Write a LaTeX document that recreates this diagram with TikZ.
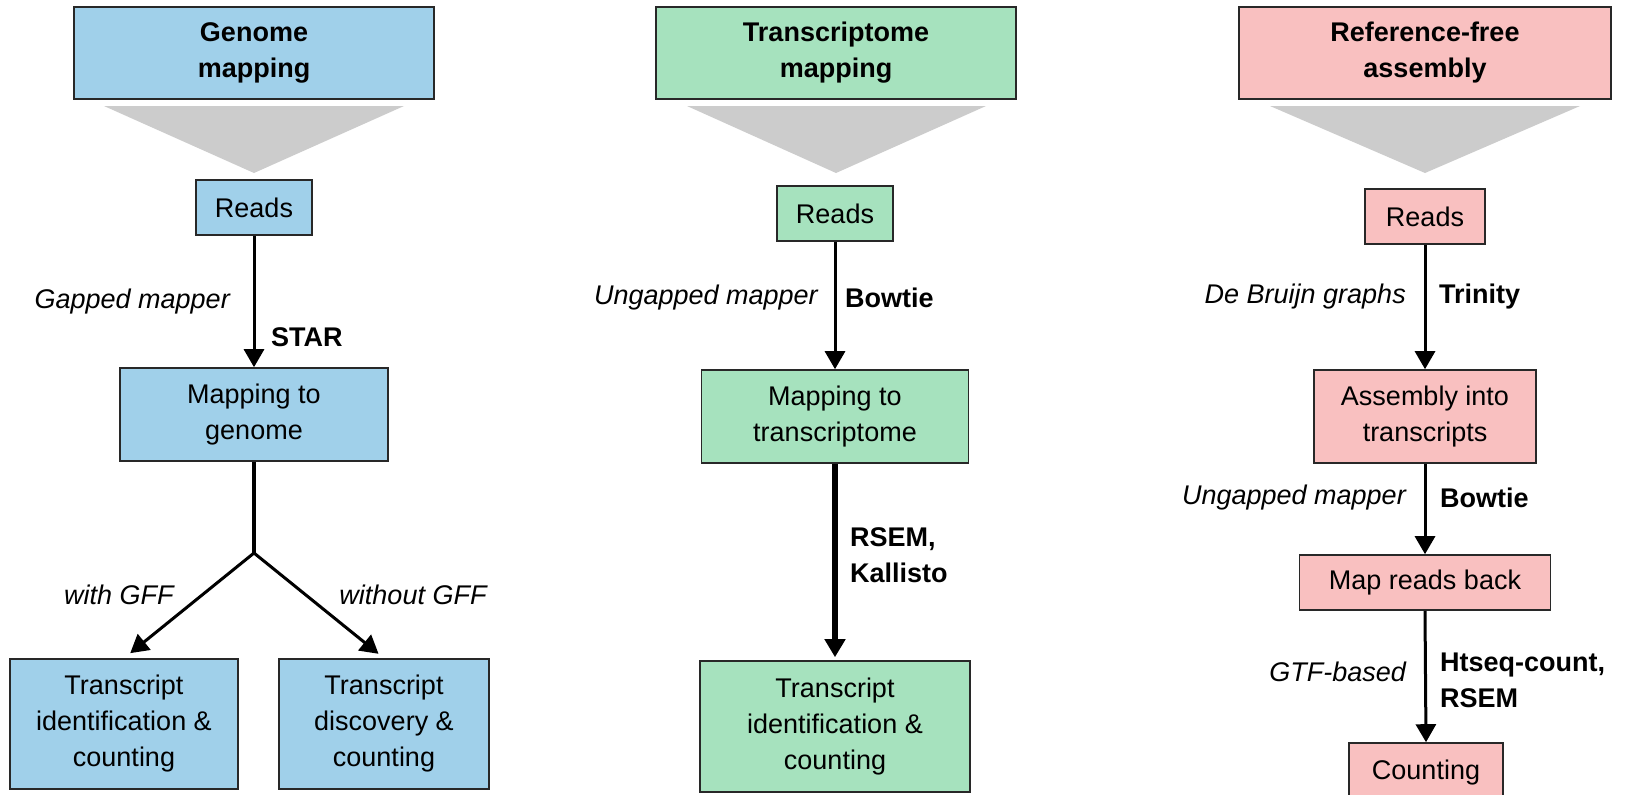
\documentclass[tikz,border=0pt]{standalone}
\usepackage{fontspec}
\setmainfont{Liberation Sans}
\usetikzlibrary{arrows.meta}
\definecolor{cblue}{RGB}{160,208,234}
\definecolor{cgreen}{RGB}{166,226,190}
\definecolor{cpink}{RGB}{249,192,192}
\definecolor{cgray}{RGB}{204,204,204}
\definecolor{cedge}{RGB}{40,40,40}
\tikzset{
  box/.style={draw=cedge, line width=1.6pt, align=center, inner sep=0pt,
    font=\fontsize{27}{36}\selectfont},
  titlebox/.style={box, font=\fontsize{27}{36}\selectfont\bfseries},
  lab/.style={inner sep=0pt, font=\fontsize{27}{36}\selectfont\itshape},
  tool/.style={inner sep=0pt, align=left, font=\fontsize{27}{36}\selectfont\bfseries},
  arr/.style={line width=3pt, -{Triangle[length=18pt,width=20pt]}},
  thickarr/.style={line width=5.5pt, -{Triangle[length=18pt,width=20pt]}},
  funnel/.style={fill=cgray, draw=none}
}
\begin{document}
\begin{tikzpicture}[x=1pt,y=-1pt]
\clip (0,0) rectangle (1641,795);
\fill[white] (0,0) rectangle (1641,795);

% ---------- Column 1: Genome mapping ----------
\node[titlebox, fill=cblue, minimum width=360pt, minimum height=92pt] (t1) at (254,53) {Genome\\mapping};
\fill[funnel] (104,106) -- (404,106) -- (254,173) -- cycle;
\node[box, fill=cblue, minimum width=116pt, minimum height=55pt] (r1) at (254,207.5) {Reads};
\node[box, fill=cblue, minimum width=268pt, minimum height=93pt] (m1) at (254,414.5) {Mapping to\\genome};
\coordinate (s1) at (254,553);
\node[box, fill=cblue, minimum width=228pt, minimum height=130pt] (b1L) at (124,724) {Transcript\\identification \&\\counting};
\node[box, fill=cblue, minimum width=210pt, minimum height=130pt] (b1R) at (384,724) {Transcript\\discovery \&\\counting};
\draw[arr] (r1.south) -- (m1.north);
\draw[line width=3.5pt] (m1.south) -- (s1);
\draw[arr, shorten >=8pt] (s1) -- (b1L.north);
\draw[arr, shorten >=7pt] (s1) -- (b1R.north);
\node[lab, anchor=east] (l1a) at (230,302) {Gapped mapper};
\node[tool, anchor=west] (l1b) at (271,337) {STAR};
\node[lab] (l1c) at (119,595) {with GFF};
\node[lab] (l1d) at (413,595) {without GFF};

% ---------- Column 2: Transcriptome mapping ----------
\node[titlebox, fill=cgreen, minimum width=360pt, minimum height=92pt] (t2) at (836,53) {Transcriptome\\mapping};
\fill[funnel] (687,106) -- (986,106) -- (836,173) -- cycle;
\node[box, fill=cgreen, minimum width=116pt, minimum height=55pt] (r2) at (835,213.5) {Reads};
\node[box, fill=cgreen, minimum width=267pt, minimum height=93pt] (m2) at (835,416.5) {Mapping to\\transcriptome};
\node[box, fill=cgreen, minimum width=270pt, minimum height=131pt] (b2) at (835,726.5) {Transcript\\identification \&\\counting};
\draw[arr] (r2.south) -- (m2.north);
\draw[thickarr, shorten >=3pt] (m2.south) -- (b2.north);
\node[lab, anchor=east] (l2a) at (818,298) {Ungapped mapper};
\node[tool, anchor=west] (l2b) at (845,298) {Bowtie};
\node[tool, anchor=west] (l2c) at (850,555) {RSEM,\\Kallisto};

% ---------- Column 3: Reference-free assembly ----------
\node[titlebox, fill=cpink, minimum width=372pt, minimum height=92pt] (t3) at (1425,53) {Reference-free\\assembly};
\fill[funnel] (1270,106) -- (1580,106) -- (1425,173) -- cycle;
\node[box, fill=cpink, minimum width=120pt, minimum height=55pt] (r3) at (1425,216.5) {Reads};
\node[box, fill=cpink, minimum width=222pt, minimum height=93pt] (m3) at (1425,416.5) {Assembly into\\transcripts};
\node[box, fill=cpink, minimum width=251pt, minimum height=55pt] (mb3) at (1425,582.5) {Map reads back};
\node[box, fill=cpink, minimum width=154pt, minimum height=60pt] (c3) at (1426,773) {Counting};
\draw[arr] (r3.south) -- (m3.north);
\draw[arr] (m3.south) -- (mb3.north);
\draw[arr] (mb3.south) -- (c3.north);
\node[lab, anchor=east] (l3a) at (1406,297) {De Bruijn graphs};
\node[tool, anchor=west] (l3b) at (1439,297) {Trinity};
\node[lab, anchor=east] (l3c) at (1406,498) {Ungapped mapper};
\node[tool, anchor=west] (l3d) at (1440,498) {Bowtie};
\node[lab, anchor=east] (l3e) at (1406,672) {GTF-based};
\node[tool, anchor=west] (l3f) at (1440,680) {Htseq-count,\\RSEM};
\end{tikzpicture}
\end{document}
